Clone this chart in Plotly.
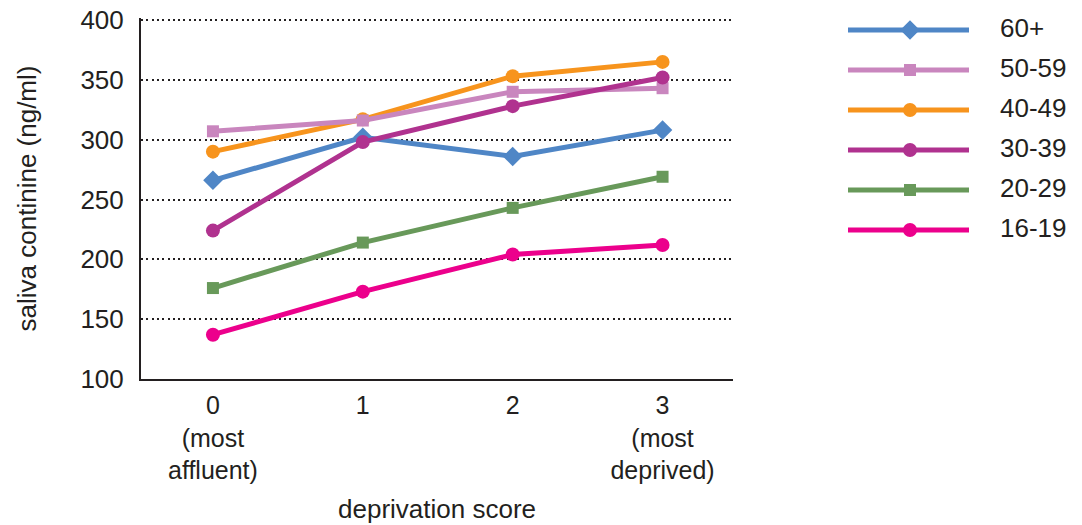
import plotly.graph_objects as go

x_vals = [0, 1, 2, 3]
x_ticktext = ["0<br>(most<br>affluent)", "1", "2", "3<br>(most<br>deprived)"]
y_ticks = [100, 150, 200, 250, 300, 350, 400]

groups = ["60+", "50-59", "40-49", "30-39", "20-29", "16-19"]
values = {
    "60+":   [266, 302, 286, 308],
    "50-59": [307, 316, 340, 343],
    "40-49": [290, 317, 353, 365],
    "30-39": [224, 298, 328, 352],
    "20-29": [176, 214, 243, 269],
    "16-19": [137, 173, 204, 212],
}
colors = {
    "60+": "#4F86C6",
    "50-59": "#C986BE",
    "40-49": "#F7941D",
    "30-39": "#B0328F",
    "20-29": "#68995A",
    "16-19": "#EC008C",
}
symbols = {
    "60+": "diamond",
    "50-59": "square",
    "40-49": "circle",
    "30-39": "circle",
    "20-29": "square",
    "16-19": "circle",
}
msize = {"diamond": 15, "square": 12, "circle": 14}
draw_order = ["60+", "40-49", "50-59", "30-39", "20-29", "16-19"]

FONT = "Liberation Sans, Arial, sans-serif"
INK = "#231F20"
W, H = 1082, 525
ML, MR, MT, MB = 141, 10, 18, 146
pw = W - ML - MR
plot_right = 733
main_dom = [0, (plot_right - ML) / pw]
leg_dom = [(848 - ML) / pw, 1]
leg_w = pw * (1 - leg_dom[0])
plot_h = H - MT - MB
# y range: 100 at the bottom edge, 400 two pixels below the top edge
y_top = 400 + 300 * 2 / (plot_h - 2)

fig = go.Figure()
for g in draw_order:
    fig.add_trace(go.Scatter(
        x=x_vals, y=values[g], mode="lines+markers", name=g,
        line=dict(color=colors[g], width=5),
        marker=dict(symbol=symbols[g], size=msize[symbols[g]], color=colors[g]),
        showlegend=False, xaxis="x", yaxis="y",
    ))

# custom legend drawn on a secondary axis pair (x2 in pixels from legend left)
for i, g in enumerate(groups):
    fig.add_trace(go.Scatter(
        x=[0, 121], y=[i, i], mode="lines",
        line=dict(color=colors[g], width=5),
        showlegend=False, xaxis="x2", yaxis="y2", hoverinfo="skip",
    ))
    fig.add_trace(go.Scatter(
        x=[62], y=[i], mode="markers",
        marker=dict(symbol=symbols[g], size=msize[symbols[g]], color=colors[g]),
        showlegend=False, xaxis="x2", yaxis="y2", hoverinfo="skip",
    ))
    fig.add_trace(go.Scatter(
        x=[152], y=[i], mode="text", text=[g], textposition="middle right",
        textfont=dict(family=FONT, size=26, color=INK),
        showlegend=False, xaxis="x2", yaxis="y2", hoverinfo="skip",
    ))

# legend rows: 40 px apart, first row 12 px below the top of the plot area
row_px = 40.0
first_px = 12.0
y2_min = -first_px / row_px
y2_max = y2_min + plot_h / row_px

fig.update_layout(
    width=W, height=H,
    margin=dict(l=ML, r=MR, t=MT, b=MB),
    paper_bgcolor="white", plot_bgcolor="white",
    font=dict(family=FONT, size=26, color=INK),
    xaxis=dict(
        domain=main_dom, range=[-0.48, 3.47],
        tickvals=x_vals, ticktext=x_ticktext,
        showgrid=False, zeroline=False, automargin=False,
        showline=True, linecolor=INK, linewidth=2,
        ticks="", tickfont=dict(size=25), ticklabelstandoff=3,
        title=dict(text="deprivation score", font=dict(size=26), standoff=17),
    ),
    yaxis=dict(
        domain=[0, 1], range=[100, y_top], tickvals=y_ticks,
        showgrid=True, gridcolor=INK, gridwidth=2, griddash="2px,3.3px",
        zeroline=False, showline=True, linecolor=INK, linewidth=2,
        automargin=False, ticklabeloverflow="allow",
        ticks="", ticklabelstandoff=10, tickfont=dict(size=26),
        title=dict(text="saliva continine (ng/ml)", font=dict(size=26), standoff=36),
    ),
    xaxis2=dict(domain=leg_dom, range=[0, leg_w], visible=False, anchor="y2"),
    yaxis2=dict(domain=[0, 1], range=[y2_max, y2_min], visible=False, anchor="x2"),
)

fig.write_html(
    "out.html",
    config={"displayModeBar": False},
    post_script="document.body.style.margin='0px';document.body.style.overflow='hidden';",
)
